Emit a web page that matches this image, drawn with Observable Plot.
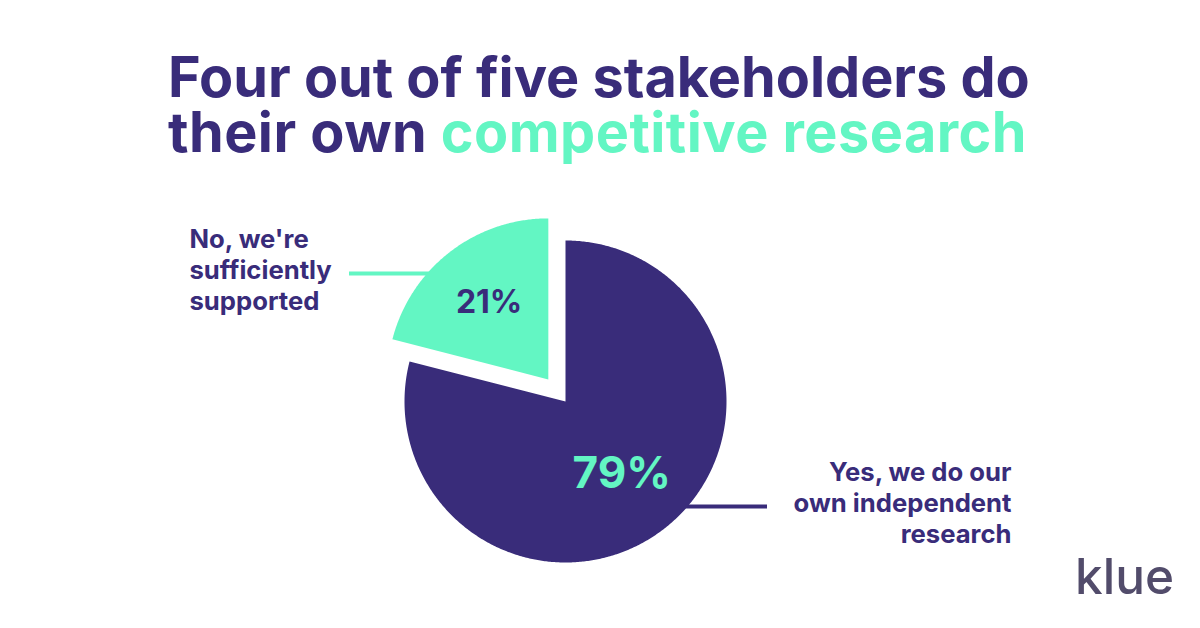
<!DOCTYPE html>
<html>
<head>
<meta charset="utf-8">
<script src="https://cdn.jsdelivr.net/npm/d3@7"></script>
<script src="https://cdn.jsdelivr.net/npm/@observablehq/plot@0.6"></script>
<style>
  html, body { margin: 0; padding: 0; background: #ffffff; }
  #wrap { position: relative; width: 1200px; height: 628px; overflow: hidden; font-family: Inter, "Noto Sans", sans-serif; }
  #chart { position: absolute; left: 0; top: 0; }
  .tline { position: absolute; white-space: nowrap; font-weight: 700; color: #392c7a; overflow: visible; }
  .green { color: #63f6c3; }
  #logo { position: absolute; white-space: nowrap; font-weight: 500; color: #524c6b; }
</style>
</head>
<body>
<div id="wrap">
  <div id="chart"></div>
</div>
<script>
// ---------- data ----------
const categories = ["Yes, we do our own independent research", "No, we're sufficiently supported"];
const values = [79, 21];
const valueLabels = ["79%", "21%"];
const sideLabels = ["Yes, we do our\nown independent\nresearch", "No, we're\nsufficiently\nsupported"];
const titleLine1 = "Four out of five stakeholders do";
const titleLine2a = "their own ";
const titleLine2b = "competitive research";
const logoText = "klue";

// ---------- style / layout ----------
const purple = "#392c7a", green = "#63f6c3";
const FONT = "Inter";
const cx = 565, cy = 401, R = 161, explode = [0, 28];

const ctx = document.createElement("canvas").getContext("2d");
function metrics(text, weight, size) {
  ctx.font = `${weight} ${size}px ${FONT}`;
  return ctx.measureText(text);
}
// place an html line so that its baseline lands at y
function placeLine(el, weight, size, lineH, left, baseline) {
  const m = metrics("Hg", weight, size);
  const A = m.fontBoundingBoxAscent, D = m.fontBoundingBoxDescent;
  el.style.fontSize = size + "px";
  el.style.lineHeight = lineH + "px";
  el.style.height = lineH + "px";
  el.style.fontFamily = FONT;
  el.style.left = left + "px";
  el.style.top = (baseline - ((lineH - (A + D)) / 2 + A)) + "px";
}

const wrap = document.getElementById("wrap");
// title: three separate line pieces, 55px line pitch
const titleSize = 100 * 862 / metrics(titleLine1, 700, 100).width;
const line2W = metrics(titleLine2a + titleLine2b, 700, titleSize).width;
const spacing2 = (859 - line2W) / (titleLine2a + titleLine2b).length;
const l1 = document.createElement("div"); l1.className = "tline"; l1.textContent = titleLine1;
placeLine(l1, 700, titleSize, 55, 168, 97);
const l2a = document.createElement("div"); l2a.className = "tline"; l2a.textContent = titleLine2a;
l2a.style.letterSpacing = spacing2 + "px";
placeLine(l2a, 700, titleSize, 55, 168, 152);
const l2b = document.createElement("div"); l2b.className = "tline green"; l2b.textContent = titleLine2b;
l2b.style.letterSpacing = spacing2 + "px";
const offset2 = metrics(titleLine2a, 700, titleSize).width + spacing2 * titleLine2a.length;
placeLine(l2b, 700, titleSize, 55, 168 + offset2, 152);
wrap.append(l1, l2a, l2b);

// logo
const logoSize = 100 * 99 / metrics(logoText, 500, 100).width;
const logo = document.createElement("div"); logo.id = "logo"; logo.textContent = logoText;
placeLine(logo, 500, logoSize, logoSize, 1075, 595);
wrap.append(logo);

// ---------- pie geometry from data ----------
const rows = categories.map((c, i) => ({category: c, value: values[i], label: valueLabels[i], side: sideLabels[i]}));
const arcs = d3.pie().sort(null).value(d => d.value)(rows);
const labelRadius = [0.57, 0.6];
const points = [];
const inner = [];
arcs.forEach((a, i) => {
  const mid = (a.startAngle + a.endAngle) / 2;
  const ox = cx + explode[i] * Math.sin(mid), oy = cy - explode[i] * Math.cos(mid);
  points.push({category: a.data.category, x: ox, y: oy});
  const n = Math.ceil((a.endAngle - a.startAngle) / (Math.PI / 360));
  for (let k = 0; k <= n; k++) {
    const t = a.startAngle + (a.endAngle - a.startAngle) * k / n;
    points.push({category: a.data.category, x: ox + R * Math.sin(t), y: oy - R * Math.cos(t)});
  }
  inner.push({category: a.data.category, label: a.data.label,
    x: ox + labelRadius[i] * R * Math.sin(mid), y: oy - labelRadius[i] * R * Math.cos(mid)});
});

// side label sizes fitted to reference widths
const sideSize = ((100 * 139 / metrics("sufficiently", 700, 100).width) + (100 * 223 / metrics("own independent", 700, 100).width)) / 2;
const sideLH = 1.21;

const chart = Plot.plot({
  width: 1200,
  height: 628,
  margin: 0,
  style: {background: "transparent", fontFamily: FONT},
  x: {domain: [0, 1200], range: [0, 1200], axis: null},
  y: {domain: [0, 628], range: [0, 628], axis: null},
  color: {domain: categories, range: [purple, green]},
  marks: [
    // leader lines
    Plot.ruleY([273], {x1: 349, x2: 450, stroke: green, strokeWidth: 4}),
    Plot.ruleY([506], {x1: 660, x2: 767, stroke: purple, strokeWidth: 4}),
    // slices
    Plot.line(points, {x: "x", y: "y", z: "category", fill: "category", stroke: "none", curve: "linear"}),
    // values
    Plot.text(inner.filter(d => d.category === categories[0]), {x: "x", y: "y", text: "label", fill: green, fontSize: 44, fontWeight: 700}),
    Plot.text(inner.filter(d => d.category === categories[1]), {x: "x", y: "y", text: "label", fill: purple, fontSize: 32, fontWeight: 700}),
    // side labels
    Plot.text([rows[1]], {x: 189, y: 277 - 0.32 * sideSize, text: "side", textAnchor: "start", lineHeight: sideLH, fontSize: sideSize, fontWeight: 700, fill: purple}),
    Plot.text([rows[0]], {x: 1011, y: 510 - 0.32 * sideSize, text: "side", textAnchor: "end", lineHeight: sideLH, fontSize: sideSize, fontWeight: 700, fill: purple})
  ]
});
document.getElementById("chart").append(chart);
</script>
</body>
</html>
